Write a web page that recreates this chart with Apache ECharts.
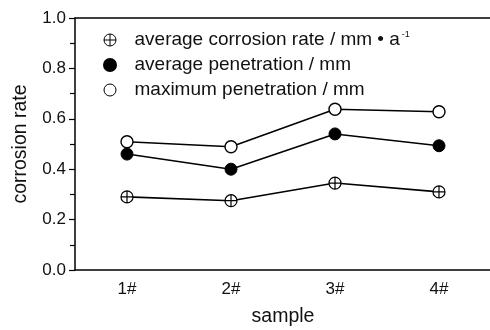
<!DOCTYPE html>
<html><head><meta charset="utf-8">
<script src="https://cdn.jsdelivr.net/npm/echarts@6/dist/echarts.min.js"></script>
<style>html,body{margin:0;padding:0;background:#fff}#c{width:490px;height:330px}</style>
</head><body><div id="c"></div>
<script>
const categories = ['1#', '2#', '3#', '4#'];
const avgCorrosionRate = [0.29, 0.275, 0.345, 0.31];
const avgPenetration = [0.46, 0.40, 0.54, 0.493];
const maxPenetration = [0.509, 0.489, 0.638, 0.628];

const crossPath = 'path://M0,-10 A10,10 0 1,1 0,10 A10,10 0 1,1 0,-10 Z M-10,0 L10,0 M0,-10 L0,10';
const font = 'Liberation Sans, Arial, sans-serif';
const ink = '#111';

const chart = echarts.init(document.getElementById('c'));
chart.setOption({
  animation: false,
  grid: { left: 75, right: -1, top: 18, bottom: 60, outerBoundsMode: 'none', containLabel: false },
  legend: {
    orient: 'vertical', left: 98, top: 25, itemGap: 5, itemWidth: 13, itemHeight: 12,
    textStyle: { fontFamily: font, fontSize: 19, color: ink, padding: [0,0,0,13], lineHeight: 20,
      rich: { sup: { fontSize: 9, verticalAlign: 'top', padding: [0,0,9,2], fontFamily: font, color: ink, lineHeight: 20 },
              n: { fontFamily: font, fontSize: 19, color: ink, lineHeight: 20 } } },
    formatter: function (name) {
      if (name.indexOf('a-1') >= 0) return '{n|average corrosion rate / mm • a}{sup|-1}';
      return name;
    },
    data: [
      { name: 'average corrosion rate / mm • a-1', icon: crossPath, itemStyle: { color: '#fff', borderColor: '#000', borderWidth: 1 } },
      { name: 'average penetration / mm', icon: 'circle', itemStyle: { color: '#000', borderColor: '#000' } },
      { name: 'maximum penetration / mm', icon: 'circle', itemStyle: { color: '#fff', borderColor: '#000', borderWidth: 1 } }
    ]
  },
  xAxis: [{
    type: 'category', data: categories, boundaryGap: true,
    name: 'sample', nameLocation: 'middle', nameGap: 37,
    nameTextStyle: { fontFamily: font, fontSize: 19.5, color: ink },
    axisLine: { lineStyle: { color: '#000', width: 1.5 } },
    axisTick: { show: false },
    axisLabel: { fontFamily: font, fontSize: 17, color: ink, margin: 11 },
    splitLine: { show: false }
  }, {
    type: 'category', data: categories, position: 'top', boundaryGap: true,
    axisLine: { show: true, lineStyle: { color: '#000', width: 1.5 } },
    axisTick: { show: false }, axisLabel: { show: false }, splitLine: { show: false }
  }],
  yAxis: {
    type: 'value', min: 0, max: 1, interval: 0.2,
    name: 'corrosion rate', nameLocation: 'middle', nameGap: 44,
    nameTextStyle: { fontFamily: font, fontSize: 19.5, color: ink },
    axisLine: { show: true, lineStyle: { color: '#000', width: 1.5 } },
    axisTick: { show: true, length: 6, lineStyle: { color: '#000', width: 1.2 } },
    minorTick: { show: true, splitNumber: 2, length: 5, lineStyle: { color: '#000', width: 1.2 } },
    axisLabel: { fontFamily: font, fontSize: 17, color: ink, margin: 9,
      formatter: v => v.toFixed(1) },
    splitLine: { show: false }
  },
  series: [
    { name: 'average corrosion rate / mm • a-1', type: 'line', data: avgCorrosionRate,
      symbol: crossPath, symbolSize: 12, lineStyle: { color: '#000', width: 1.6 },
      itemStyle: { color: '#fff', borderColor: '#000', borderWidth: 1.2 } },
    { name: 'average penetration / mm', type: 'line', data: avgPenetration,
      symbol: 'circle', symbolSize: 12, lineStyle: { color: '#000', width: 1.6 },
      itemStyle: { color: '#000', borderColor: '#000', borderWidth: 1 } },
    { name: 'maximum penetration / mm', type: 'line', data: maxPenetration,
      symbol: 'circle', symbolSize: 12, lineStyle: { color: '#000', width: 1.6 },
      itemStyle: { color: '#fff', borderColor: '#000', borderWidth: 1.4 } }
  ]
});
</script></body></html>
